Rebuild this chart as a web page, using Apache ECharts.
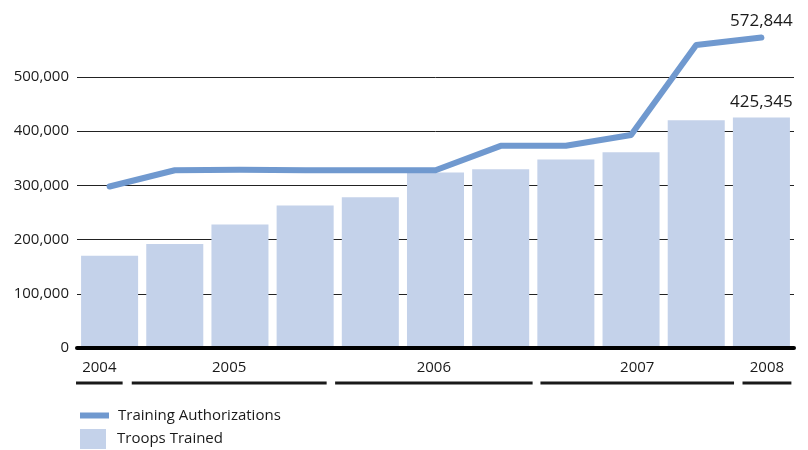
<!DOCTYPE html>
<html>
<head>
<meta charset="utf-8">
<script src="https://cdn.jsdelivr.net/npm/echarts@6/dist/echarts.min.js"></script>
<style>html,body{margin:0;padding:0;background:#fff}#c{width:808px;height:450px}</style>
</head>
<body>
<div id="c"></div>
<script>
// ---- data ----
const periods = ['P1','P2','P3','P4','P5','P6','P7','P8','P9','P10','P11'];
const troopsTrained = [170000, 192000, 228000, 263000, 278000, 324000, 330000, 348000, 361000, 420000, 425345];
const trainingAuthorizations = [298000, 328000, 329000, 328000, 328000, 328000, 373000, 373000, 393000, 559000, 572844];
const yearLabels = ['2004', '2005', '2006', '2007', '2008'];
// year spans in period-index units
const yearSpanStart = [-0.515, 0.34, 3.46, 6.61, 9.71];
const yearSpanEnd = [0.20, 3.33, 6.49, 9.58, 10.46];
const yTicks = [0, 100000, 200000, 300000, 400000, 500000];

const fmt = v => Number(v).toLocaleString('en-US');
const FONT = 'Open Sans';
const TXT = '#1a1a1a';
const LINE_C = '#7099cf';
const BAR_C = '#c4d2ea';

const last = periods.length - 1;
const lastLabel = {show: true, position: 'top', distance: 7,
  formatter: p => (p.dataIndex === last ? fmt(p.value) : ''),
  fontSize: 17, color: TXT, fontFamily: FONT};

const chart = echarts.init(document.getElementById('c'), null, {renderer: 'canvas'});
chart.setOption({
  animation: false,
  backgroundColor: '#fff',
  textStyle: {fontFamily: FONT, color: TXT},
  grid: [
    {left: 77, right: 14, top: 77, bottom: 102, containLabel: false},
    {left: 77, right: 14, top: 360, height: 23, containLabel: false}
  ],
  xAxis: [
    {type: 'category', gridIndex: 0, data: periods, z: 5,
     axisLine: {show: true, lineStyle: {color: '#000', width: 4}},
     axisTick: {show: false}, axisLabel: {show: false}, splitLine: {show: false}},
    {type: 'value', gridIndex: 1, min: -0.5, max: 10.5, show: false}
  ],
  yAxis: [
    {type: 'value', gridIndex: 0, min: yTicks[0], max: yTicks[yTicks.length - 1], interval: 100000,
     axisLine: {show: false}, axisTick: {show: false},
     axisLabel: {formatter: fmt, fontSize: 15, color: TXT, margin: 8, fontFamily: FONT},
     splitLine: {show: true, lineStyle: {color: '#222', width: 1}}},
    {type: 'value', gridIndex: 1, min: 0, max: 1, show: false}
  ],
  legend: [
    {data: ['Training Authorizations'], left: 80, top: 408, orient: 'vertical',
     icon: 'rect', itemWidth: 29, itemHeight: 6, padding: 0,
     textStyle: {fontSize: 15, color: TXT, fontFamily: FONT, padding: [0, 0, 0, 4]}},
    {data: ['Troops Trained'], left: 80, top: 429, orient: 'vertical',
     icon: 'rect', itemWidth: 26, itemHeight: 20, padding: 0,
     textStyle: {fontSize: 15, color: TXT, fontFamily: FONT, padding: [0, 0, 0, 6]}}
  ],
  series: [
    {name: 'Troops Trained', type: 'bar', xAxisIndex: 0, yAxisIndex: 0,
     barCategoryGap: '12.5%', itemStyle: {color: BAR_C},
     label: lastLabel, labelLayout: {hideOverlap: false},
     data: troopsTrained},
    {name: 'Training Authorizations', type: 'line', xAxisIndex: 0, yAxisIndex: 0,
     clip: false, symbol: 'circle', symbolSize: 0, showSymbol: true, z: 4,
     lineStyle: {color: LINE_C, width: 6, cap: 'round', join: 'round'},
     itemStyle: {color: LINE_C},
     label: Object.assign({}, lastLabel, {distance: 8}), labelLayout: {hideOverlap: false},
     data: trainingAuthorizations},
    {type: 'custom', xAxisIndex: 1, yAxisIndex: 1, silent: true,
     data: yearSpanStart.map((s, i) => [s, yearSpanEnd[i]]),
     renderItem: (params, api) => {
       const a = api.coord([api.value(0), 0]);
       const b = api.coord([api.value(1), 0]);
       return {type: 'group', children: [
         {type: 'line', shape: {x1: a[0], y1: a[1], x2: b[0], y2: b[1]},
          style: {stroke: '#1a1a1a', lineWidth: 3}},
         {type: 'text', style: {text: yearLabels[params.dataIndex], x: (a[0] + b[0]) / 2, y: a[1] - 15,
          align: 'center', verticalAlign: 'middle', font: '15px "' + FONT + '"', fill: TXT}}
       ]};
     }}
  ]
});
</script>
</body>
</html>
